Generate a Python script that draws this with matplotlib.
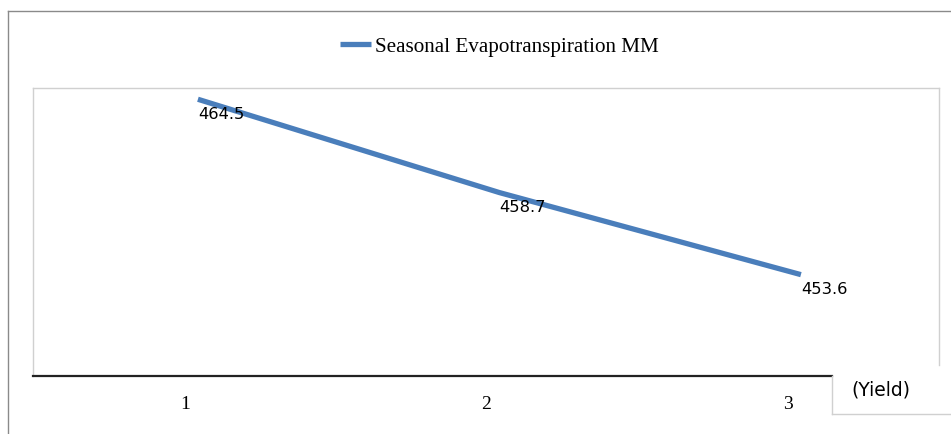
import matplotlib.pyplot as plt
from matplotlib.lines import Line2D
from matplotlib.transforms import ScaledTranslation

# ------ data ------
x_vals = [1, 2, 3]
x_labels = ['1', '2', '3']
evapo = [464.5, 458.7, 453.6]
series_name = 'Seasonal Evapotranspiration MM'

W, H = 951, 435
fig = plt.figure(figsize=(W / 100, H / 100), dpi=100)

def fx(px):
    return px / W

def fy(py):
    return 1 - py / H

# plot area
ax = fig.add_axes([fx(33), fy(377), fx(939) - fx(33), fy(89) - fy(377)])
line_col = '#4a7ebb'
ax.plot(x_vals, evapo, color=line_col, linewidth=3.8, solid_capstyle='butt', label=series_name)
ax.set_xlim(0.453, 3.458)
ax.set_ylim(447.3, 465.2)

# data labels
for xv, yv in zip(x_vals, evapo):
    ax.annotate(f'{yv:.1f}', (xv, yv), xytext=(0, -14), textcoords='offset pixels',
                ha='left', va='center', fontsize=11.8, family='DejaVu Sans', color='black')

ax.set_yticks([])
ax.set_xticks(x_vals, x_labels, family='Liberation Serif', fontsize=14)
ax.tick_params(axis='x', length=0, pad=14)
for lab in ax.get_xticklabels():
    lab.set_transform(lab.get_transform() + ScaledTranslation(-13 / 100, 0, fig.dpi_scale_trans))

for s in ['left', 'top', 'right', 'bottom']:
    ax.spines[s].set_visible(False)

# borders of plot area and chart
gray = '#d0d0d0'
fig.add_artist(Line2D([fx(33), fx(33)], [fy(377), fy(89)], color=gray, lw=1))
fig.add_artist(Line2D([fx(33), fx(939)], [fy(89), fy(89)], color=gray, lw=1))
fig.add_artist(Line2D([fx(939), fx(939)], [fy(89), fy(366)], color=gray, lw=1))
fig.add_artist(Line2D([fx(33), fx(832)], [fy(377), fy(377)], color='#222222', lw=1.6))
fig.add_artist(Line2D([fx(832), fx(832)], [fy(377), fy(415)], color=gray, lw=1))
fig.add_artist(Line2D([fx(832), fx(951)], [fy(415), fy(415)], color=gray, lw=1))
fig.add_artist(Line2D([fx(7.5), fx(7.5)], [fy(11.5), fy(435)], color='#8a8a8a', lw=1))
fig.add_artist(Line2D([fx(7.5), fx(951)], [fy(11.5), fy(11.5)], color='#8a8a8a', lw=1))

fig.text(fx(851), fy(390), '(Yield)', ha='left', va='center', fontsize=13.5, family='DejaVu Sans')

# legend
leg = fig.legend(loc='center left', bbox_to_anchor=(fx(340), fy(47)), frameon=False,
                 prop={'family': 'Liberation Serif', 'size': 15.2},
                 handlelength=1.45, handletextpad=0.2, borderpad=0, borderaxespad=0)

fig.savefig('out.png', dpi=100)
